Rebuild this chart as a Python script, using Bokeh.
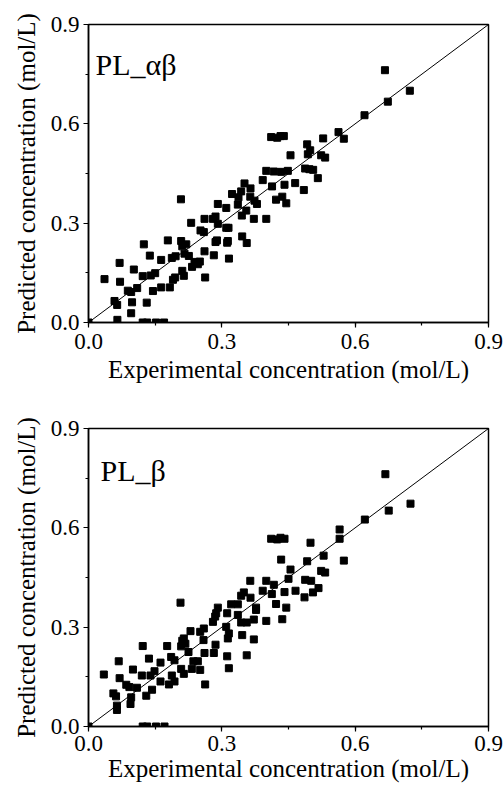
from bokeh.plotting import figure
from bokeh.layouts import column
from bokeh.models import SingleIntervalTicker, Range1d, Label, PrintfTickFormatter
from bokeh.embed import file_html
from bokeh.resources import INLINE

# ---- data: PL_ab panel ----
ab_exp = [0.0, 0.036, 0.070, 0.071, 0.0585, 0.0645, 0.065, 0.0885, 0.096, 0.098, 0.096, 0.102,
          0.1095, 0.122, 0.1245, 0.131, 0.138, 0.140, 0.145, 0.150, 0.1635, 0.1635, 0.1785,
          0.183, 0.1875, 0.19, 0.196, 0.195, 0.208, 0.2085, 0.211, 0.211, 0.2145, 0.22, 0.216,
          0.2258, 0.231, 0.233, 0.2385, 0.246, 0.2505, 0.252, 0.2595, 0.261, 0.261, 0.2625,
          0.28, 0.282, 0.2858, 0.2858, 0.289, 0.291, 0.291, 0.31, 0.31, 0.3135, 0.315, 0.312,
          0.316, 0.323, 0.336, 0.3375, 0.3435, 0.345, 0.3458, 0.351, 0.355, 0.356, 0.364,
          0.3645, 0.372, 0.3735, 0.379, 0.392, 0.4, 0.4, 0.411, 0.413, 0.417, 0.422, 0.4245,
          0.432, 0.4395, 0.4335, 0.436, 0.441, 0.445, 0.4485, 0.4545, 0.465, 0.4845, 0.4875,
          0.492, 0.4935, 0.4988, 0.497, 0.5055, 0.516, 0.5235, 0.5325, 0.528, 0.5625, 0.5745,
          0.667, 0.723, 0.6735, 0.621, 0.122, 0.132, 0.152, 0.17]
ab_pred = [0.0, 0.131, 0.180, 0.123, 0.065, 0.053, 0.008, 0.096, 0.092, 0.061, 0.028, 0.160,
           0.104, 0.140, 0.236, 0.060, 0.202, 0.142, 0.095, 0.149, 0.189, 0.106, 0.248,
           0.106, 0.195, 0.129, 0.200, 0.136, 0.372, 0.246, 0.230, 0.156, 0.141, 0.236, 0.208,
           0.201, 0.301, 0.168, 0.183, 0.176, 0.184, 0.278, 0.273, 0.313, 0.215, 0.136,
           0.313, 0.203, 0.320, 0.243, 0.248, 0.358, 0.298, 0.346, 0.286, 0.246, 0.286, 0.241,
           0.193, 0.388, 0.356, 0.378, 0.396, 0.323, 0.260, 0.420, 0.338, 0.240, 0.380,
           0.405, 0.313, 0.368, 0.358, 0.430, 0.458, 0.313, 0.560, 0.411, 0.456, 0.371, 0.558,
           0.563, 0.563, 0.455, 0.380, 0.416, 0.360, 0.458, 0.505, 0.421, 0.400, 0.465,
           0.538, 0.508, 0.520, 0.463, 0.461, 0.436, 0.505, 0.498, 0.556, 0.575, 0.555,
           0.762, 0.700, 0.667, 0.626, 0.0, 0.0, 0.0, 0.0]

# ---- data: PL_b panel ----
b_exp = [0.0, 0.0345, 0.068, 0.07, 0.056, 0.062, 0.064, 0.064, 0.085, 0.092, 0.1, 0.096, 0.0945,
         0.109, 0.12, 0.122, 0.13, 0.136, 0.1395, 0.143, 0.1485, 0.162, 0.162, 0.177, 0.181,
         0.186, 0.1875, 0.1935, 0.1935, 0.207, 0.2085, 0.211, 0.2145, 0.218, 0.2085, 0.2145,
         0.225, 0.2295, 0.2325, 0.236, 0.246, 0.2513, 0.2513, 0.2595, 0.2588, 0.261, 0.2625,
         0.28, 0.282, 0.285, 0.2873, 0.291, 0.2858, 0.3098, 0.312, 0.3135, 0.3158, 0.312,
         0.3158, 0.321, 0.336, 0.336, 0.3435, 0.3495, 0.3458, 0.3435, 0.356, 0.356, 0.364,
         0.3645, 0.372, 0.372, 0.377, 0.377, 0.392, 0.4, 0.4, 0.411, 0.4125, 0.417, 0.422,
         0.4245, 0.432, 0.441, 0.4335, 0.436, 0.441, 0.445, 0.45, 0.4545, 0.4658, 0.486,
         0.4875, 0.492, 0.4995, 0.501, 0.505, 0.5175, 0.5235, 0.5325, 0.529, 0.565, 0.565,
         0.5745, 0.668, 0.7245, 0.6755, 0.6218, 0.122, 0.132, 0.152, 0.171]
b_pred = [0.0, 0.157, 0.197, 0.146, 0.100, 0.091, 0.063, 0.050, 0.126, 0.119, 0.172, 0.088, 0.068,
          0.117, 0.154, 0.243, 0.093, 0.205, 0.154, 0.111, 0.167, 0.193, 0.136, 0.243, 0.127,
          0.210, 0.154, 0.200, 0.136, 0.374, 0.242, 0.259, 0.266, 0.250, 0.174, 0.159,
          0.225, 0.288, 0.174, 0.197, 0.197, 0.171, 0.286, 0.296, 0.261, 0.222, 0.127,
          0.316, 0.222, 0.332, 0.342, 0.359, 0.247, 0.301, 0.342, 0.266, 0.281, 0.212,
          0.176, 0.369, 0.369, 0.337, 0.395, 0.405, 0.276, 0.314, 0.314, 0.215, 0.440,
          0.389, 0.323, 0.263, 0.359, 0.352, 0.410, 0.440, 0.319, 0.567, 0.400, 0.428, 0.370,
          0.565, 0.570, 0.567, 0.504, 0.324, 0.406, 0.359, 0.446, 0.474, 0.410, 0.390,
          0.443, 0.499, 0.555, 0.440, 0.405, 0.418, 0.470, 0.465, 0.516, 0.595, 0.567,
          0.501, 0.762, 0.673, 0.652, 0.625, 0.0, 0.0, 0.0, 0.0]

diag = [0.0, 0.9]
FONT = "'Liberation Serif', 'Times New Roman', serif"


def make_panel(xs, ys, label, label_x, label_y, border_top, border_bottom, height,
               tick_standoff, title_standoff):
    p = figure(width=504, height=height, output_backend="svg", toolbar_location=None,
               x_range=Range1d(0, 0.9), y_range=Range1d(0, 0.9),
               min_border_left=88, min_border_right=16, min_border_top=border_top,
               min_border_bottom=border_bottom)
    p.grid.visible = False
    p.outline_line_color = "black"
    p.outline_line_width = 1.5
    p.background_fill_color = "white"
    p.border_fill_color = "white"
    for ax in (p.xaxis[0], p.yaxis[0]):
        ax.ticker = SingleIntervalTicker(interval=0.3, num_minor_ticks=2)
        ax.formatter = PrintfTickFormatter(format="%.1f")
        ax.major_tick_out = 5
        ax.major_tick_in = 0
        ax.minor_tick_out = 3
        ax.minor_tick_in = 0
        ax.axis_line_width = 1.5
        ax.major_tick_line_width = 1.2
        ax.minor_tick_line_width = 1.2
        ax.major_label_text_font = FONT
        ax.major_label_text_font_size = "23px"
        ax.major_label_text_color = "black"
        ax.axis_label_text_font = FONT
        ax.axis_label_text_font_size = "25px"
        ax.axis_label_text_font_style = "normal"
        ax.axis_label_text_color = "black"
    p.xaxis.major_label_standoff = tick_standoff
    p.xaxis.axis_label_standoff = title_standoff
    p.yaxis.major_label_standoff = 4
    p.yaxis.axis_label_standoff = 8
    p.xaxis.axis_label = "Experimental concentration (mol/L)"
    p.yaxis.axis_label = "Predicted concentration (mol/L)"

    p.line(diag, diag, line_color="black", line_width=1)
    p.scatter(xs, ys, marker="square", size=7, fill_color="black", line_color="black")
    p.add_layout(Label(x=label_x, y=label_y, text=label, text_font=FONT,
                       text_font_size="30px", text_color="black",
                       text_baseline="alphabetic"))
    return p


p1 = make_panel(ab_exp, ab_pred, "PL_αβ", 0.016, 0.779, 24, 78, 400, 6, 4)
p2 = make_panel(b_exp, b_pred, "PL_β", 0.027, 0.773, 28, 60, 386, 4, 1)
layout = column(p1, p2, spacing=0)

open("out.html", "w").write(file_html(layout, INLINE))
